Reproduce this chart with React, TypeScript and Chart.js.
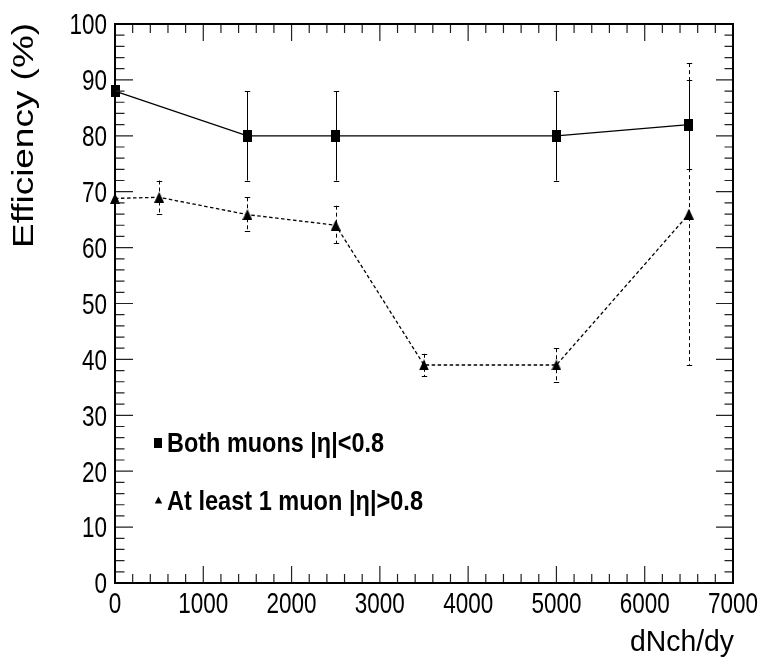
import React, { useEffect, useRef } from "react";
import { Chart, registerables } from "chart.js";

Chart.register(...registerables);

// ---- data ----
const xBoth = [0, 1500, 2500, 5000, 6500];
const effBoth = [88, 80, 80, 80, 82];
const effBothHi = [88, 88, 88, 88, 90];
const effBothLo = [88, 72, 72, 72, 74];

const xOne = [0, 500, 1500, 2500, 3500, 5000, 6500];
const effOne = [68.8, 69, 65.9, 64, 39, 39, 66];
const effOneHi = [68.8, 72, 69, 67.5, 41, 42, 93];
const effOneLo = [68.8, 66, 63, 60.8, 37, 36, 39];

const xTickValues = [0, 1000, 2000, 3000, 4000, 5000, 6000, 7000];
const yTickValues = [0, 10, 20, 30, 40, 50, 60, 70, 80, 90, 100];
const xMinorStep = 200;
const yMinorStep = 2;

const legendLabels = ["Both muons |η|<0.8", "At least 1 muon |η|>0.8"];
const xTitle = "dNch/dy";
const yTitle = "Efficiency (%)";

const FONT = '"Liberation Sans", Arial, Helvetica, sans-serif';

function makeSquare() {
  const c = document.createElement("canvas");
  c.width = 9;
  c.height = 12;
  const g = c.getContext("2d")!;
  g.fillStyle = "#000";
  g.fillRect(0, 0, 9, 12);
  return c;
}
function makeTriangle() {
  const c = document.createElement("canvas");
  c.width = 10;
  c.height = 11;
  const g = c.getContext("2d")!;
  g.fillStyle = "#000";
  g.beginPath();
  g.moveTo(5, 0);
  g.lineTo(10, 11);
  g.lineTo(0, 11);
  g.closePath();
  g.fill();
  return c;
}

function drawScaled(
  ctx: CanvasRenderingContext2D,
  text: string,
  x: number,
  y: number,
  font: string,
  sx: number,
  sy: number,
  align: CanvasTextAlign
) {
  ctx.save();
  ctx.translate(x, y);
  ctx.scale(sx, sy);
  ctx.font = font;
  ctx.textAlign = align;
  ctx.textBaseline = "alphabetic";
  ctx.fillText(text, 0, 0);
  ctx.restore();
}

const errorBarPlugin = {
  id: "errorBars",
  beforeDatasetsDraw(chart: any) {
    const ctx: CanvasRenderingContext2D = chart.ctx;
    const xs = chart.scales.x;
    const ys = chart.scales.y;
    const cap = 2.7;
    const draw = (xv: number[], hi: number[], lo: number[], dash: number[]) => {
      ctx.save();
      ctx.strokeStyle = "#000";
      ctx.lineWidth = 1;
      for (let i = 0; i < xv.length; i++) {
        if (hi[i] === lo[i]) continue;
        const px = Math.round(xs.getPixelForValue(xv[i])) + 0.5;
        const yh = ys.getPixelForValue(hi[i]);
        const yl = ys.getPixelForValue(lo[i]);
        ctx.setLineDash(dash);
        ctx.beginPath();
        ctx.moveTo(px, yh);
        ctx.lineTo(px, yl);
        ctx.stroke();
        ctx.setLineDash([]);
        ctx.beginPath();
        ctx.moveTo(px - cap, Math.round(yh) + 0.5);
        ctx.lineTo(px + cap, Math.round(yh) + 0.5);
        ctx.moveTo(px - cap, Math.round(yl) + 0.5);
        ctx.lineTo(px + cap, Math.round(yl) + 0.5);
        ctx.stroke();
      }
      ctx.restore();
    };
    draw(xBoth, effBothHi, effBothLo, []);
    draw(xOne, effOneHi, effOneLo, [4, 3]);
  },
};

const framePlugin = {
  id: "frame",
  afterDraw(chart: any) {
    const ctx: CanvasRenderingContext2D = chart.ctx;
    const xs = chart.scales.x;
    const ys = chart.scales.y;
    const { left, right, top, bottom } = chart.chartArea;
    ctx.save();
    // ticks
    ctx.strokeStyle = "#222";
    ctx.lineWidth = 1.2;
    ctx.beginPath();
    for (let v = 0; v <= 7000 + 1e-6; v += xMinorStep) {
      const px = xs.getPixelForValue(v);
      const major = xTickValues.includes(v);
      const len = major ? 17 : 9;
      ctx.moveTo(px, bottom);
      ctx.lineTo(px, bottom - len);
      ctx.moveTo(px, top);
      ctx.lineTo(px, top + len);
    }
    for (let v = 0; v <= 100 + 1e-6; v += yMinorStep) {
      const py = ys.getPixelForValue(v);
      const major = yTickValues.includes(v);
      ctx.moveTo(left, py);
      ctx.lineTo(left + (major ? 18 : 9.5), py);
      ctx.moveTo(right, py);
      ctx.lineTo(right - (major ? 17 : 8.5), py);
    }
    ctx.stroke();
    // frame
    ctx.strokeStyle = "#000";
    ctx.lineWidth = 2;
    ctx.strokeRect(left, top, right - left, bottom - top);

    // tick labels
    ctx.fillStyle = "#000";
    const tickFont = `30px ${FONT}`;
    ctx.font = tickFont;
    const sxTick = 50 / ctx.measureText("1000").width;
    for (const v of xTickValues) {
      const px = xs.getPixelForValue(v);
      drawScaled(ctx, String(v), px, 613, tickFont, sxTick, 1, "center");
    }
    for (const v of yTickValues) {
      const py = ys.getPixelForValue(v);
      drawScaled(ctx, String(v), 107, py + 10.3, tickFont, sxTick, 1, "right");
    }

    // axis titles
    const titleFont = `29px ${FONT}`;
    ctx.font = titleFont;
    const wx = ctx.measureText(xTitle).width;
    drawScaled(ctx, xTitle, right + 1, 651, titleFont, 104 / wx, 1, "right");
    const wy = ctx.measureText(yTitle).width;
    ctx.save();
    ctx.translate(33, 248);
    ctx.rotate(-Math.PI / 2);
    ctx.scale(225 / wy, 1);
    ctx.font = titleFont;
    ctx.textAlign = "left";
    ctx.textBaseline = "alphabetic";
    ctx.fillText(yTitle, 0, 0);
    ctx.restore();

    // legend
    const legFont = `bold 27.6px ${FONT}`;
    ctx.font = legFont;
    const w1 = ctx.measureText(legendLabels[0]).width;
    const w2 = ctx.measureText(legendLabels[1]).width;
    drawScaled(ctx, legendLabels[0], 167, 451.7, legFont, 217 / w1, 1, "left");
    drawScaled(ctx, legendLabels[1], 167, 510, legFont, 256 / w2, 1, "left");
    ctx.fillRect(154, 438, 8, 10);
    ctx.beginPath();
    ctx.moveTo(158.5, 496.5);
    ctx.lineTo(162.2, 503.5);
    ctx.lineTo(154.8, 503.5);
    ctx.closePath();
    ctx.fill();
    ctx.restore();
  },
};

export default function App() {
  const ref = useRef<HTMLCanvasElement | null>(null);
  useEffect(() => {
    if (!ref.current) return;
    const sq = makeSquare();
    const tri = makeTriangle();
    const chart = new Chart(ref.current, {
      type: "scatter",
      data: {
        datasets: [
          {
            label: legendLabels[0],
            data: xBoth.map((x, i) => ({ x, y: effBoth[i] })),
            showLine: true,
            borderColor: "#000",
            borderWidth: 1.2,
            pointStyle: sq as any,
            pointRadius: 6,
            clip: false as any,
          },
          {
            label: legendLabels[1],
            data: xOne.map((x, i) => ({ x, y: effOne[i] })),
            showLine: true,
            borderColor: "#000",
            borderWidth: 1.3,
            borderDash: [3.5, 2.5],
            pointStyle: tri as any,
            pointRadius: 6,
            clip: false as any,
          },
        ],
      },
      options: {
        animation: false,
        responsive: false,
        devicePixelRatio: 1,
        layout: { padding: { left: 115, right: 31, top: 24, bottom: 80 } },
        scales: {
          x: { type: "linear", min: 0, max: 7000, display: false },
          y: { type: "linear", min: 0, max: 100, display: false },
        },
        plugins: { legend: { display: false }, tooltip: { enabled: false } },
      },
      plugins: [errorBarPlugin, framePlugin],
    });
    return () => chart.destroy();
  }, []);
  return (
    <div style={{ position: "fixed", left: 0, top: 0, width: 764, height: 663, background: "#fff" }}>
      <canvas ref={ref} width={764} height={663} style={{ display: "block" }} />
    </div>
  );
}
